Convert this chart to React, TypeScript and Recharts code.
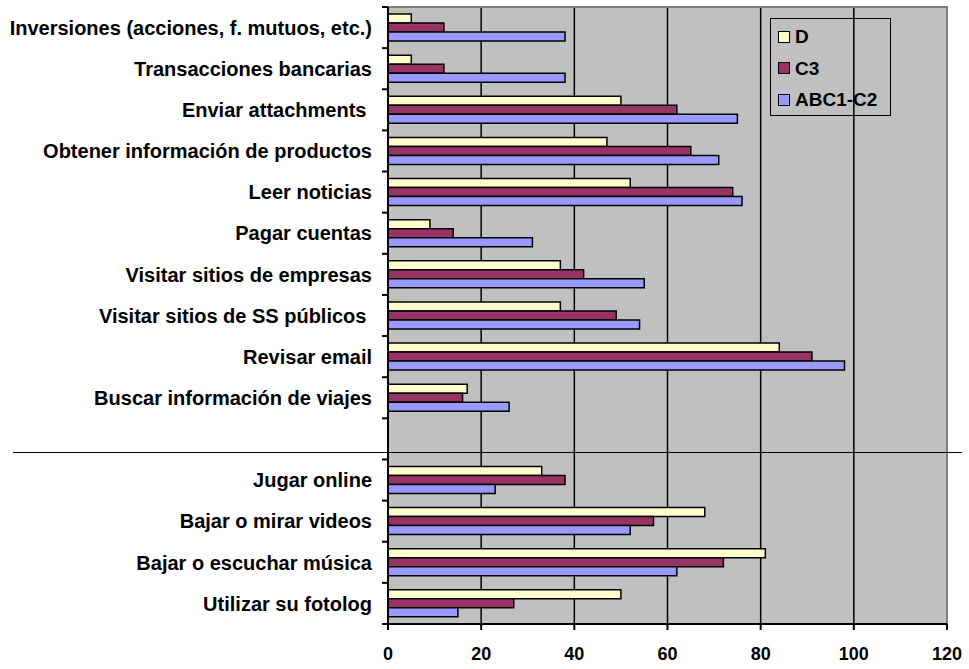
import { BarChart, Bar, XAxis, YAxis, CartesianGrid, Legend, ReferenceArea } from "recharts";

const categories = [
  "Inversiones (acciones, f. mutuos, etc.)",
  "Transacciones bancarias",
  "Enviar attachments\u00A0",
  "Obtener información de productos",
  "Leer noticias",
  "Pagar cuentas",
  "Visitar sitios de empresas",
  "Visitar sitios de SS públicos\u00A0",
  "Revisar email",
  "Buscar información de viajes",
  "",
  "Jugar online",
  "Bajar o mirar videos",
  "Bajar o escuchar música",
  "Utilizar su fotolog",
];

const seriesD = [5, 5, 50, 47, 52, 9, 37, 37, 84, 17, null, 33, 68, 81, 50];
const seriesC3 = [12, 12, 62, 65, 74, 14, 42, 49, 91, 16, null, 38, 57, 72, 27];
const seriesABC = [38, 38, 75, 71, 76, 31, 55, 54, 98, 26, null, 23, 52, 62, 15];

const seriesNames = ["D", "C3", "ABC1-C2"];
const xTicks = [0, 20, 40, 60, 80, 100, 120];
const gridValues = [20, 40, 60, 80, 100];

const data = categories.map((name, i) => ({
  name,
  D: seriesD[i],
  C3: seriesC3[i],
  ABC: seriesABC[i],
}));

const FONT = "'Liberation Sans', Arial, sans-serif";
const W = 969;
const H = 669;
const PLOT_LEFT = 388;
const PLOT_TOP = 7;
const PLOT_BOTTOM = 624;
const PLOT_RIGHT = 947;
const BAND = (PLOT_BOTTOM - PLOT_TOP) / categories.length;

function CategoryTick(props: any) {
  const { x, y, payload, index } = props;
  const half = BAND / 2;
  return (
    <g>
      <text x={x} y={y} dy="0.36em" textAnchor="end" fontSize={20} fontWeight="bold" fontFamily={FONT} fill="#000">
        {payload.value}
      </text>
      <line x1={PLOT_LEFT - 6} x2={PLOT_LEFT} y1={y - half} y2={y - half} stroke="#000" strokeWidth={2} />
      {index === categories.length - 1 && (
        <line x1={PLOT_LEFT - 6} x2={PLOT_LEFT} y1={y + half} y2={y + half} stroke="#000" strokeWidth={2} />
      )}
    </g>
  );
}

function LegendBox(props: any) {
  const items = [...(props.payload || [])].sort(
    (a: any, b: any) => seriesNames.indexOf(a.value) - seriesNames.indexOf(b.value)
  );
  return (
    <div style={{
      width: 121, height: 98, boxSizing: "border-box", border: "1.5px solid #000",
      paddingTop: 2, paddingLeft: 7, fontFamily: FONT, fontWeight: "bold", fontSize: 19,
    }}>
      {items.map((it: any) => (
        <div key={it.value} style={{ height: 31.5, display: "flex", alignItems: "center" }}>
          <span style={{
            width: 12, height: 12, boxSizing: "border-box", background: it.color,
            border: "1.5px solid #000", marginRight: 5, display: "inline-block",
          }} />
          <span style={{ color: "#000", lineHeight: 1 }}>{it.value}</span>
        </div>
      ))}
    </div>
  );
}

export default function App() {
  return (
    <div style={{ position: "absolute", left: 0, top: 0, width: W, height: H, background: "#fff" }}>
      <BarChart
        width={W}
        height={H}
        data={data}
        layout="vertical"
        margin={{ top: PLOT_TOP, right: W - PLOT_RIGHT, bottom: 0, left: 0 }}
        barCategoryGap="17%"
        barGap={0}
      >
        <CartesianGrid
          horizontal={false}
          verticalValues={gridValues}
          stroke="#000"
          strokeWidth={1.5}
          fill="#C0C0C0"
          fillOpacity={1}
        />
        <ReferenceArea x1={0} x2={120} fill="none" stroke="#808080" strokeWidth={2} ifOverflow="visible" />
        <XAxis
          type="number"
          domain={[0, 120]}
          ticks={xTicks}
          interval={0}
          height={H - PLOT_BOTTOM}
          axisLine={{ stroke: "#000", strokeWidth: 2 }}
          tickLine={{ stroke: "#000", strokeWidth: 2 }}
          tickSize={6}
          tickMargin={17}
          tick={{ fill: "#000", fontSize: 18, fontWeight: "bold", fontFamily: FONT }}
        />
        <YAxis
          type="category"
          dataKey="name"
          width={PLOT_LEFT}
          interval={0}
          axisLine={{ stroke: "#000", strokeWidth: 2 }}
          tickLine={false}
          tickSize={6}
          tickMargin={10}
          tick={<CategoryTick />}
        />
        <Legend
          layout="horizontal"
          verticalAlign="middle"
          align="center"
          content={<LegendBox />}
          wrapperStyle={{ left: 770, top: 18, width: 121, height: 98 }}
        />
        <Bar dataKey="D" name="D" fill="#FFFFCC" stroke="#000" strokeWidth={1.5} isAnimationActive={false} />
        <Bar dataKey="C3" name="C3" fill="#993366" stroke="#000" strokeWidth={1.5} isAnimationActive={false} />
        <Bar dataKey="ABC" name="ABC1-C2" fill="#9999FF" stroke="#000" strokeWidth={1.5} isAnimationActive={false} />
      </BarChart>
      <div style={{ position: "absolute", left: 13, top: 451.5, width: 949, height: 1.5, background: "#000" }} />
    </div>
  );
}
